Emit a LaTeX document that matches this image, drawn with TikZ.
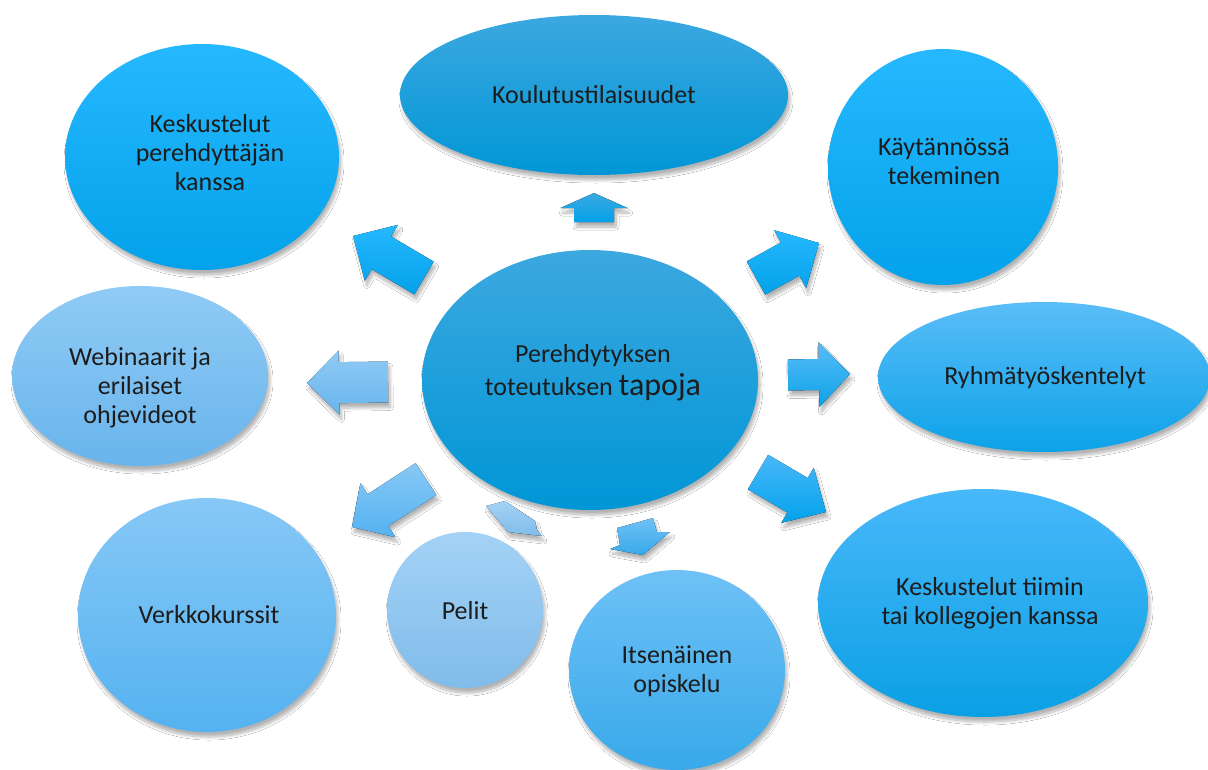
\documentclass[tikz,border=0pt]{standalone}
\usepackage{fontspec}
\setmainfont{Carlito}
\usetikzlibrary{shapes.geometric,calc,shadows.blur}

% colours
\definecolor{txt}{HTML}{1C1C1C}
\definecolor{midTop}{HTML}{3CA8E0}
\definecolor{midBot}{HTML}{0096D6}
\definecolor{vivTop}{HTML}{26B8FF}
\definecolor{vivBot}{HTML}{03A2EA}
\definecolor{ryhTop}{HTML}{5ABDF8}
\definecolor{ryhBot}{HTML}{0CA2E8}
\definecolor{kolTop}{HTML}{48B8FA}
\definecolor{kolBot}{HTML}{0AA0E4}
\definecolor{itsTop}{HTML}{6EC1F6}
\definecolor{itsBot}{HTML}{38A9EA}
\definecolor{pelTop}{HTML}{A4D2F6}
\definecolor{pelBot}{HTML}{80BCEA}
\definecolor{verTop}{HTML}{86C8F6}
\definecolor{verBot}{HTML}{55B2F0}
\definecolor{webTop}{HTML}{90CBF5}
\definecolor{webBot}{HTML}{68B4EC}

\tikzset{
  softshadow/.style={blur shadow={shadow xshift=2pt, shadow yshift=-5pt,
      shadow blur radius=3pt, shadow opacity=30, shadow blur steps=10}},
  bubble/.style={ellipse, inner sep=0pt, align=center, text=txt,
    font=\fontsize{26}{29}\selectfont, softshadow},
  label/.style={align=center, text=txt, font=\fontsize{26}{29}\selectfont},
  arrowbody/.style={softshadow},
}

% block arrow from tail #1 to tip #2: shaft half width #3, head half width #4,
% head length #5, fill style #6
\newcommand\blockarrow[6]{%
  \coordinate (#2-base) at ($(#2)!#5!(#1)$);
  \fill[arrowbody,#6]
    ($(#1)!#3!90:(#2)$) -- ($(#2-base)!#3!90:(#2)$) -- ($(#2-base)!#4!90:(#2)$)
    -- (#2) -- ($(#2-base)!#4!-90:(#2)$) -- ($(#2-base)!#3!-90:(#2)$)
    -- ($(#1)!#3!-90:(#2)$) -- cycle;
}

\begin{document}
\begin{tikzpicture}[x=1pt,y=-1pt]
\useasboundingbox[fill=white] (0,0) rectangle (1208,769);

% outer bubbles
\node[bubble, minimum width=388, minimum height=160, top color=midTop, bottom color=midBot]
  (koul) at (594,95) {};
\node[bubble, minimum width=274, minimum height=226, top color=vivTop, bottom color=vivBot]
  (kper) at (202,157) {};
\node[bubble, minimum width=230, minimum height=236, top color=vivTop, bottom color=vivBot]
  (kayt) at (943,167) {};
\node[bubble, minimum width=332, minimum height=150, top color=ryhTop, bottom color=ryhBot]
  (ryhm) at (1044,377) {};
\node[bubble, minimum width=330, minimum height=228, top color=kolTop, bottom color=kolBot]
  (ktii) at (983,603) {};
\node[bubble, minimum width=216, minimum height=200, top color=itsTop, bottom color=itsBot]
  (itse) at (677,670) {};
\node[bubble, minimum width=156, minimum height=156, top color=pelTop, bottom color=pelBot]
  (peli) at (465,610) {};
\node[bubble, minimum width=258, minimum height=234, top color=verTop, bottom color=verBot]
  (verk) at (207,615) {};
\node[bubble, minimum width=256, minimum height=180, top color=webTop, bottom color=webBot]
  (webi) at (140,376) {};

% centre bubble
\node[bubble, minimum width=336, minimum height=260, top color=midTop, bottom color=midBot]
  (core) at (590,380) {};

% texts
\node[label] (tkoul) at (594,95) {Koulutustilaisuudet};
\node[label] (tkper) at (210,153) {Keskustelut\\perehdyttäjän\\kanssa};
\node[label] (tkayt) at (944,161) {Käytännössä\\tekeminen};
\node[label] (tryhm) at (1045,378) {Ryhmätyöskentelyt};
\node[label] (tktii) at (990,603) {Keskustelut tiimin\\tai kollegojen kanssa};
\node[label] (titse) at (677,671) {Itsenäinen\\opiskelu};
\node[label] (tpeli) at (465,611) {Pelit};
\node[label] (tverk) at (209,615) {Verkkokurssit};
\node[label] (twebi) at (140,388) {Webinaarit ja\\erilaiset\\ohjevideot};
\node[align=center, text=txt, font=\fontsize{26}{33}\selectfont] (tcore) at (593,373)
  {Perehdytyksen\\toteutuksen {\fontsize{32}{33}\selectfont tapoja}};

% arrows
\coordinate (up-t) at (594,222);  \coordinate (up-p) at (594,193);
\coordinate (tl-t) at (424,278);  \coordinate (tl-p) at (353,236);
\coordinate (tr-t) at (756,278);  \coordinate (tr-p) at (819,243);
\coordinate (lf-t) at (388,382);  \coordinate (lf-p) at (307,383);
\coordinate (rt-t) at (788,375);  \coordinate (rt-p) at (850,374);
\coordinate (bl-t) at (426,479);  \coordinate (bl-p) at (352,527);
\coordinate (br-t) at (758,472);  \coordinate (br-p) at (826,512);

\blockarrow{up-t}{up-p}{20pt}{33.5pt}{15pt}{top color=midTop, bottom color=vivBot}
\blockarrow{tl-t}{tl-p}{19pt}{32.5pt}{33pt}{top color=vivTop, bottom color=vivBot}
\blockarrow{tr-t}{tr-p}{19pt}{33pt}{33pt}{top color=vivTop, bottom color=vivBot}
\blockarrow{lf-t}{lf-p}{20.5pt}{32pt}{32pt}{top color=webTop, bottom color=webBot}
\blockarrow{rt-t}{rt-p}{15.5pt}{32.5pt}{31pt}{top color=ryhTop, bottom color=ryhBot}
\blockarrow{bl-t}{bl-p}{19pt}{32.3pt}{31pt}{top color=verTop, bottom color=verBot}
\blockarrow{br-t}{br-p}{20pt}{32pt}{33pt}{top color=kolTop, bottom color=vivBot}

% two small foreshortened arrows below the centre
\fill[arrowbody, top color=pelTop, bottom color=pelBot]
  (486,506) -- (505,501) -- (535,521) -- (537,530) -- (542,536) -- (508,532) -- cycle;
\fill[arrowbody, top color=itsTop, bottom color=itsBot]
  (617,528) -- (653,518) -- (657,532) -- (670,532) -- (643,555) -- (610,549) -- (620,545) -- cycle;
\end{tikzpicture}
\end{document}
